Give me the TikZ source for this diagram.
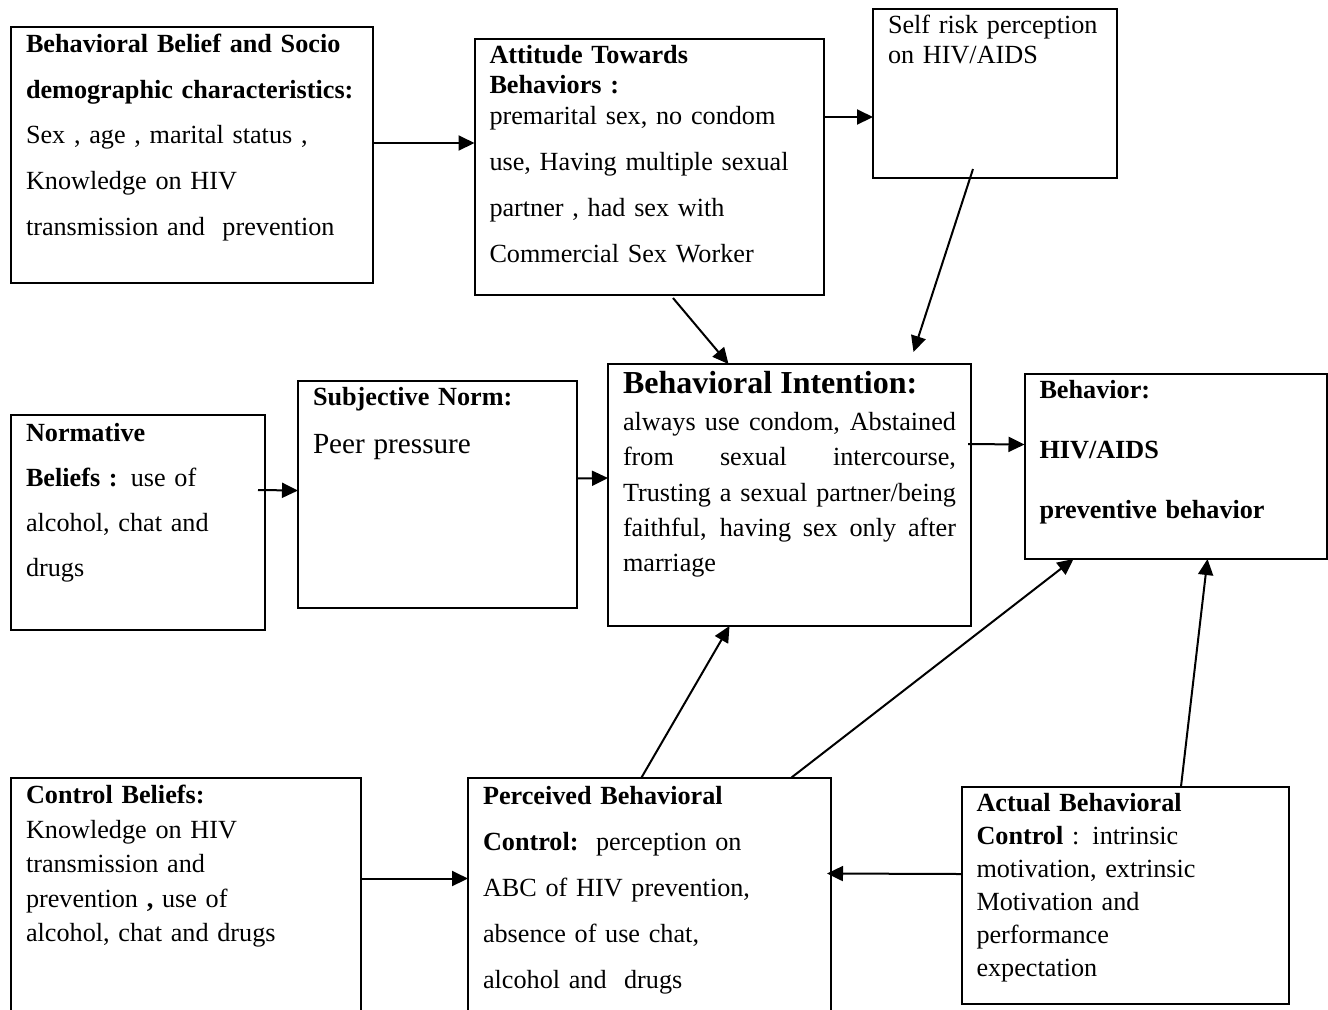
\documentclass[tikz,border=0pt]{standalone}
\usepackage{fontspec}
\setmainfont{Liberation Serif}
\usetikzlibrary{arrows.meta, calc}
\tikzstyle{factor} = [rectangle, draw=black, line width=1pt, anchor=north west, inner xsep=7.5pt, inner ysep=0pt, outer sep=0pt, align=left]
\tikzstyle{arrow} = [line width=1pt,->,>={Stealth[length=8pt,width=7.5pt,inset=0pt]}]

\begin{document}
\begin{tikzpicture}[x=0.5pt, y=-0.5pt]
  \useasboundingbox (0,0) rectangle (1328,1009);
  \clip (0,0) rectangle (1328,1009);

  \node (bb) [factor, text width=166pt, text height=12.75pt, text depth=115.25pt, font=\fontsize{13.1}{22.85}\selectfont] at (11,27) {\textbf{Behavioral Belief and Socio}\\ \textbf{demographic characteristics:}\\ Sex , age , marital status ,\\ Knowledge on HIV\\ transmission and\ \ prevention};
  \node (atb) [factor, text width=159.5pt, text height=12.15pt, text depth=115.85pt, font=\fontsize{13.1}{15.2}\selectfont] at (474.5,39) {\textbf{Attitude Towards}\\ \textbf{Behaviors :}\\ premarital sex, no condom\\[7.8pt] use, Having multiple sexual\\[7.8pt] partner , had sex with\\[7.8pt] Commercial Sex Worker};
  \node (srp) [factor, text width=107pt, text height=12.15pt, text depth=72.35pt, font=\fontsize{13.1}{15}\selectfont] at (873,9) {Self risk perception\\ on HIV/AIDS};
  \node (nb) [factor, text width=112pt, text height=13pt, text depth=94.5pt, font=\fontsize{13.1}{22.65}\selectfont] at (11,415) {\textbf{Normative}\\ \textbf{Beliefs :} use of\\ alcohol, chat and\\ drugs};
  \node (sn) [factor, text width=124.5pt, text height=12pt, text depth=101.5pt, font=\fontsize{13.1}{24}\selectfont] at (298,381) {\textbf{Subjective Norm:}\\ {\fontsize{14.6}{24}\selectfont Peer pressure}};
  \node (bi) [factor, align=justify, text width=166.5pt, text height=14.65pt, text depth=116.35pt, font=\fontsize{13.1}{17.6}\selectfont] at (608,364) {{\fontsize{16}{17.6}\selectfont\bfseries Behavioral Intention:}\\[1.1pt] always use condom, Abstained\linebreak from sexual intercourse,\linebreak Trusting a sexual partner/being\linebreak faithful, having sex only after\linebreak marriage};
  \node (beh) [factor, text width=136pt, text height=12.15pt, text depth=80.35pt, font=\fontsize{13.1}{30}\selectfont\bfseries] at (1024.5,374) {Behavior:\\ HIV/AIDS\\ preventive behavior};
  \node (cb) [factor, text width=160pt, text height=13pt, text depth=117pt, font=\fontsize{13.1}{17.3}\selectfont] at (11,777.5) {\textbf{Control Beliefs:}\\ Knowledge on HIV\\ transmission and\\ prevention \textbf{,} use of\\ alcohol, chat and drugs};
  \node (pbc) [factor, text width=166.5pt, text height=13.25pt, text depth=116.75pt, font=\fontsize{13.1}{23}\selectfont] at (468,777.5) {\textbf{Perceived Behavioral}\\ \textbf{Control:}\ \ perception on\\ ABC of HIV prevention,\\ absence of use chat,\\ alcohol and\ \ drugs};
  \node (abc) [factor, text width=148.5pt, text height=12.25pt, text depth=96.25pt, font=\fontsize{13.1}{16.5}\selectfont] at (961.5,786.5) {\textbf{Actual Behavioral}\\ \textbf{Control} : intrinsic\\ motivation, extrinsic\\ Motivation and\\ performance\\ expectation};

  \draw [arrow] ($(bb.east)+(0,-12)$) -- ($(atb.west)+(0,-24)$);
  \draw [arrow] ($(atb.east)+(0,-50)$) -- ($(srp.west)+(0,23.5)$);
  \draw [arrow] ($(atb.south)+(24,3)$) -- ($(bi.north)+(-61,0)$);
  \draw [arrow] ($(srp.south)+(-22,-9)$) -- ($(bi.north)+(124,-12)$);
  \draw [arrow] ($(nb.north east)+(-7,75)$) -- ($(sn.west)+(0,-4)$);
  \draw [arrow] ($(sn.east)+(0,-16)$) -- ($(bi.west)+(0,-17)$);
  \draw [arrow] ($(bi.east)+(-3,-51)$) -- ($(beh.west)+(0,-22)$);
  \draw [arrow] ($(cb.north east)+(0,101)$) -- ($(pbc.north west)+(0,101)$);
  \draw [arrow] ($(pbc.north)+(-8,0)$) -- ($(bi.south)+(-60,0)$);
  \draw [arrow] ($(pbc.north)+(142,0)$) -- ($(beh.south)+(-102,0)$);
  \draw [arrow] ($(abc.north)+(56,0)$) -- ($(beh.south)+(32,0)$);
  \draw [arrow] ($(abc.west)+(0,-21)$) -- ($(pbc.north east)+(-4,96)$);
\end{tikzpicture}
\end{document}
